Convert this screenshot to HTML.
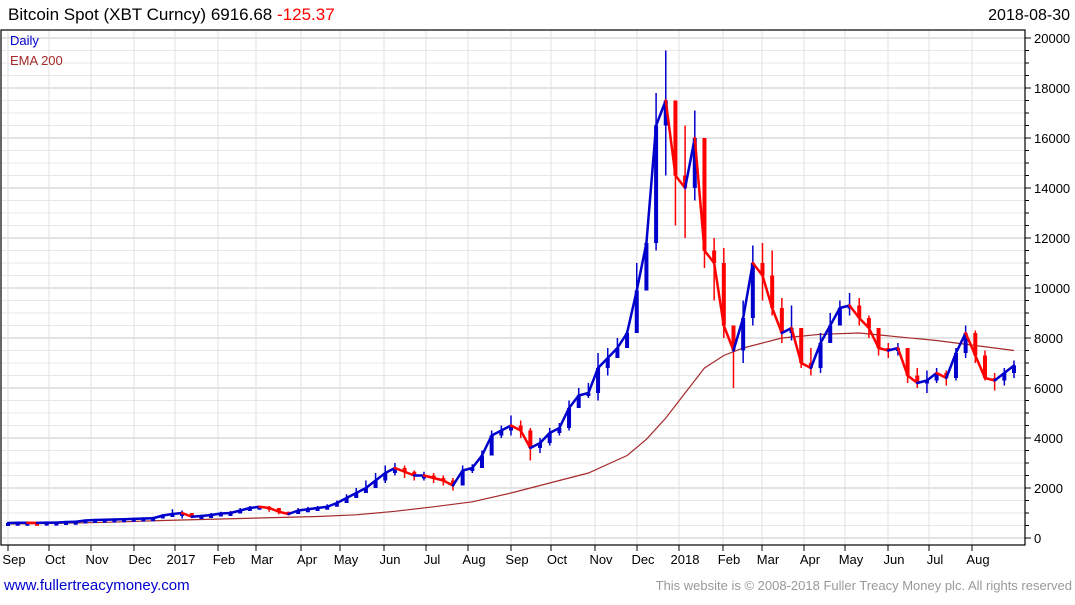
<!DOCTYPE html>
<html><head><meta charset="utf-8"><style>
body{margin:0;background:#fff;width:1075px;height:600px;overflow:hidden;font-family:"Liberation Sans",sans-serif}
</style></head><body>
<svg id="c" width="1075" height="600" xmlns="http://www.w3.org/2000/svg">
<text x="8" y="20" font-size="17" fill="#000">Bitcoin Spot (XBT Curncy) 6916.68 <tspan fill="#f00">-125.37</tspan></text>
<text x="1070" y="20" font-size="16" text-anchor="end" fill="#000">2018-08-30</text>
<g id="grid"></g>
<g id="ema"></g>
<g id="bars"></g>
<g id="axes"></g>
<text x="10" y="45" font-size="13" fill="#0000cc">Daily</text>
<text x="10" y="65" font-size="13" fill="#a52a2a">EMA 200</text>
<text x="4" y="590" font-size="15" fill="#0000cc">www.fullertreacymoney.com</text>
<text x="1072" y="590" font-size="13" fill="#999" text-anchor="end">This website is © 2008-2018 Fuller Treacy Money plc. All rights reserved</text>
</svg>
<script>
const closes=[600,610,610,605,615,615,640,650,700,720,730,740,750,765,780,790,900,960,1000,850,880,920,980,1000,1100,1200,1250,1200,1050,960,1100,1150,1200,1250,1400,1600,1800,2000,2300,2600,2800,2650,2500,2500,2400,2300,2100,2700,2800,3300,4100,4300,4500,4300,3600,3800,4200,4400,5200,5700,5800,6800,7200,7600,8200,9900,11800,16500,17500,14500,14000,16000,11500,11000,8500,7500,8800,11000,10500,9200,8200,8400,7000,6800,7800,8500,9200,9300,8800,8400,7600,7500,7600,6500,6200,6300,6600,6400,7400,8200,7300,6400,6300,6600,6900];
const highs=[630,640,640,630,640,650,680,700,740,750,760,770,790,800,820,850,950,1150,1100,920,930,1000,1050,1080,1200,1280,1300,1280,1200,1050,1200,1250,1280,1350,1500,1750,2000,2300,2600,2900,3000,2900,2700,2650,2600,2500,2400,2900,2950,3500,4300,4500,4900,4700,4400,4000,4400,4600,5500,6000,6200,7400,7600,8000,8300,11000,12000,17800,19500,17000,16500,17100,14000,12000,11600,8500,9500,11700,11800,11500,9600,9300,8400,7600,8200,9000,9500,9800,9600,8900,8200,7800,7800,7500,6800,6700,6800,6700,7600,8500,8300,7500,6600,6800,7100];
const lows=[560,570,580,580,590,590,600,620,650,690,700,710,720,740,750,760,800,880,780,790,830,870,920,950,1000,1100,1150,1050,950,900,960,1080,1130,1200,1300,1450,1600,1800,2000,2200,2500,2400,2300,2300,2200,2100,1900,2300,2600,2800,3400,4000,4100,4000,3100,3400,3700,4100,4300,5200,5600,5500,6500,7200,7800,9000,10000,11500,14500,12500,12000,13500,10800,9500,8000,6000,7000,8500,9500,8900,7800,7900,6800,6500,6600,8000,8700,8900,8500,8000,7300,7200,7300,6200,6000,5800,6200,6100,6300,7200,7000,6300,5900,6100,6400];
const emaIdx=[0,4,8,12,16,20,24,28,32,36,40,44,48,52,56,60,64,66,68,70,72,74,76,80,84,88,92,96,100,104];
const emaVals=[560,580,610,650,700,740,780,820,860,930,1070,1250,1450,1800,2200,2600,3300,3950,4800,5800,6800,7300,7600,8000,8150,8200,8050,7900,7700,7500];
const yTicks=[0,2000,4000,6000,8000,10000,12000,14000,16000,18000,20000];
const months=["Sep","Oct","Nov","Dec","2017","Feb","Mar","Apr","May","Jun","Jul","Aug","Sep","Oct","Nov","Dec","2018","Feb","Mar","Apr","May","Jun","Jul","Aug"];
const monthX=[14,55,97,140,181,224,262,307,346,390,432,474,517,557,601,643,685,729,768,810,851,894,935,978];
const NS="http://www.w3.org/2000/svg";
const L=1,R=1025,T=30,B=545;
function y(v){return 538-v*0.025;}
function x(i){return 8+i*(1014-8)/(closes.length-1);}
function mk(tag,attrs,parent){const e=document.createElementNS(NS,tag);for(const k in attrs)e.setAttribute(k,attrs[k]);document.getElementById(parent).appendChild(e);return e;}
for(let v=0;v<=20000;v+=500){
  const g=mk('line',{x1:L,x2:R,y1:y(v),y2:y(v),stroke:v%2000===0?'#c8c8c8':'#e8e8e8','stroke-width':1},'grid');
  
  
  const t=mk('line',{x1:R,x2:R+(v%2000===0?6:4),y1:y(v),y2:y(v),stroke:'#000'},'axes');
  
  
}
monthX.forEach((mx,i)=>{
  const g=mk('line',{x1:mx-6,x2:mx-6,y1:T,y2:B,stroke:'#e0e0e0'},'grid');
  
  
  const t=mk('line',{x1:mx-6,x2:mx-6,y1:B,y2:B+6,stroke:'#000'},'axes');
  
  
  const l=mk('text',{x:mx,y:564,'font-size':13,'text-anchor':'middle',fill:'#000'},'axes');
  l.textContent=months[i];
  
  
});
yTicks.forEach(v=>{
  const l=mk('text',{x:1034,y:y(v)+5,'font-size':13,fill:'#000'},'axes');
  l.textContent=v;
  
  
});
const fr=mk('rect',{x:L,y:T,width:R-L,height:B-T,fill:'none',stroke:'#000','stroke-width':1.2},'axes');


const pts=emaIdx.map((i,k)=>x(i).toFixed(1)+','+y(emaVals[k]).toFixed(1)).join(' ');
const pl=mk('polyline',{points:pts,fill:'none',stroke:'#a52a2a','stroke-width':1.2},'ema');


closes.forEach((c,i)=>{
  const up=i===0||c>=closes[i-1];
  const col=up?'#0000cc':'#ff0000';
  if(i>0){
    const s=mk('line',{x1:x(i-1),y1:y(closes[i-1]),x2:x(i),y2:y(c),stroke:col,'stroke-width':2.5,'stroke-linecap':'round'},'bars');
    
    
  }
  const hl=mk('line',{x1:x(i),x2:x(i),y1:y(highs[i]),y2:y(lows[i]),stroke:col,'stroke-width':1.5},'bars');
  
  
  const o=i===0?c:closes[i-1];
  const top=y(Math.max(o,c)),bot=y(Math.min(o,c));
  const r=mk('rect',{x:x(i)-2,y:top,width:4,height:Math.max(3,bot-top),fill:col},'bars');
  
  
});
</script>
</body></html>
